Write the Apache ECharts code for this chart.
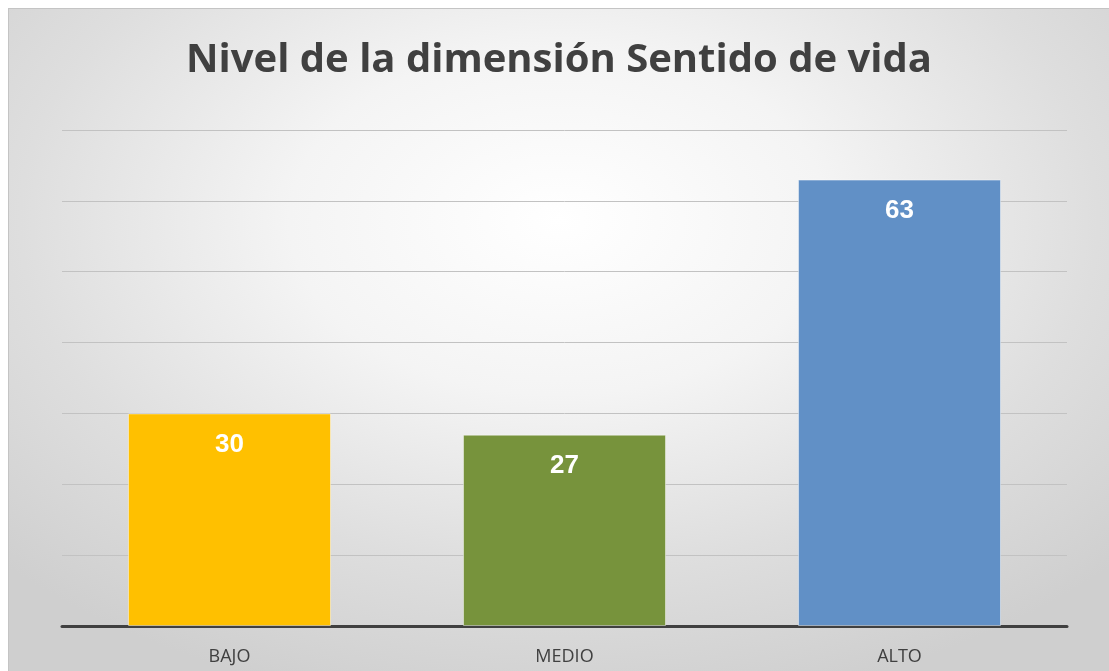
<!DOCTYPE html>
<html>
<head>
<meta charset="utf-8">
<script src="https://cdn.jsdelivr.net/npm/echarts@6/dist/echarts.min.js"></script>
<style>
  html, body { margin: 0; padding: 0; background: #fff; }
  #chart {
    position: absolute;
    left: 8px;
    top: 8px;
    width: 1101px;
    height: 663px;
    border-top: 1px solid #c4c4c4;
    border-left: 1px solid #c4c4c4;
    box-sizing: border-box;
    background: radial-gradient(ellipse 70% 75% at 50% 32%, #ffffff 0%, #f4f4f4 35%, #dedede 70%, #cfcfcf 100%);
  }
</style>
</head>
<body>
<div id="chart"></div>
<script>
const categories = ['BAJO', 'MEDIO', 'ALTO'];
const values = [30, 27, 63];
const barColors = ['#FFC000', '#77933C', '#6190C6'];

const myChart = echarts.init(document.getElementById('chart'));

const option = {
  backgroundColor: 'transparent',
  animation: false,
  title: {
    text: 'Nivel de la dimensión Sentido de vida',
    left: 'center',
    top: 27,
    textStyle: {
      fontFamily: 'Open Sans',
      fontWeight: 'bold',
      fontSize: 40,
      color: '#404040'
    }
  },
  grid: {
    top: 121,
    bottom: 45,
    left: 53,
    right: 42
  },
  xAxis: {
    type: 'category',
    data: categories,
    axisTick: { show: false },
    axisLine: {
      lineStyle: { color: '#404040', width: 3 }
    },
    axisLabel: {
      color: '#404040',
      fontFamily: 'Open Sans',
      fontSize: 18,
      margin: 22
    }
  },
  yAxis: {
    type: 'value',
    min: 0,
    max: 70,
    interval: 10,
    axisLabel: { show: false },
    axisLine: { show: false },
    axisTick: { show: false },
    splitLine: {
      lineStyle: { color: '#c2c2c2', width: 1 }
    }
  },
  series: [
    {
      type: 'bar',
      barWidth: 203,
      data: values.map((v, i) => ({
        value: v,
        itemStyle: { color: barColors[i] }
      })),
      itemStyle: {
        borderColor: 'rgba(255,255,255,0.45)',
        borderWidth: 1
      },
      label: {
        show: true,
        position: 'insideTop',
        distance: 18,
        color: '#ffffff',
        fontFamily: 'Liberation Sans',
        fontWeight: 'bold',
        fontSize: 26
      }
    }
  ]
};

myChart.setOption(option);
</script>
</body>
</html>
